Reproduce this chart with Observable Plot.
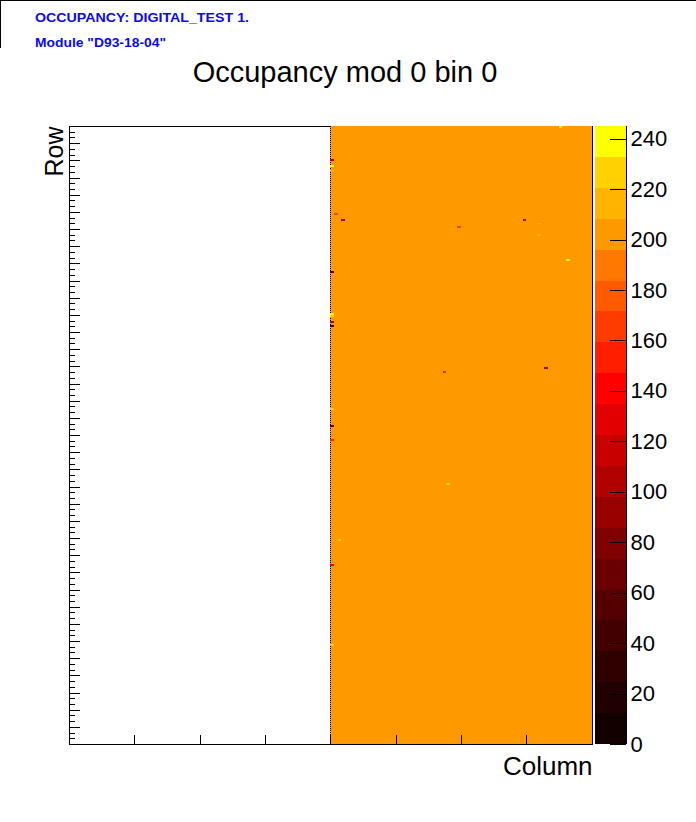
<!DOCTYPE html>
<html><head><meta charset="utf-8">
<script src="https://cdn.jsdelivr.net/npm/d3@7"></script>
<script src="https://cdn.jsdelivr.net/npm/@observablehq/plot@0.6"></script>
<style>
html,body{margin:0;padding:0;background:#fff;}
#wrap{position:relative;width:696px;height:822px;overflow:hidden;background:#fff;}
#wrap svg{position:absolute;top:0;}
#pave{position:absolute;left:0;top:0;width:696px;height:48px;border-top:1px solid #000;border-left:1px solid #000;box-sizing:border-box;}
</style></head><body><div id="wrap"><div id="pave"></div></div>
<script>
// ---- texts ----
const headerLines = ["OCCUPANCY: DIGITAL_TEST 1.", 'Module "D93-18-04"'];
const title = "Occupancy mod 0 bin 0";
const xLabel = "Column";
const yLabel = "Row";

// ---- grid ----
const nColumns = 144;
const nRows = 320;
const activeColStart = 72;   // first filled column
const activeColEnd = 144;
const baseOccupancy = 200;   // uniform value of the filled half

// ---- individual pixels that differ from 200 ----
const outCols   = [135, 72, 72, 72, 73, 75, 107, 125, 129, 129, 137, 72, 72, 72, 72, 72, 103, 131, 104, 72, 72, 74, 72, 72, 72];
const outRows   = [319, 302, 299, 296, 274, 271, 267, 271, 269, 263, 250, 244, 222, 221, 218, 216, 192, 194, 134, 164, 157, 105, 92, 51, 173];
const outValues = [242, 104, 238, 215, 165, 104, 160, 104, 214, 214, 238, 42, 238, 228, 104, 45, 153, 110, 232, 55, 150, 222, 130, 225, 225];

// ---- colour palette (20 contour bands, bottom to top) ----
const zMax = 245;
const paletteColors = ["#120000","#200000","#300000","#420000","#550000","#6a0000","#800000","#980000","#b00000","#c80000",
                       "#e20000","#ff0000","#ff1e00","#ff3c00","#ff5a00","#ff7800","#ff9900","#ffb400","#ffd200","#ffff00"];
const zTicks = [0, 20, 40, 60, 80, 100, 120, 140, 160, 180, 200, 220, 240];

// ---- axis ticks ----
const xTickCols = [18, 36, 54, 72, 90, 108, 126];
const yDivisions = 36;
const ySubdivisions = 3;

// ---- derived tables ----
const nBands = paletteColors.length;
const thresholds = d3.range(1, nBands).map(i => i * zMax / nBands);
const bands = paletteColors.map((c, i) => ({lo: i * zMax / nBands, hi: (i + 1) * zMax / nBands, color: c}));
const regions = [{x1: activeColStart, x2: activeColEnd, y1: 0, y2: nRows, value: baseOccupancy}];
const outliers = outCols.map((c, i) => ({col: c, row: outRows[i], value: outValues[i]}));
const yMajor = d3.range(0, yDivisions + 1).map(k => k * nRows / yDivisions);
const yMinor = d3.range(0, yDivisions * ySubdivisions + 1).filter(k => k % ySubdivisions).map(k => k * nRows / (yDivisions * ySubdivisions));

const W = 696, H = 822, mL = 69, mR = 104.5, mT = 126, mB = 78;
const frameW = W - mL - mR, frameH = H - mT - mB;
const font = '"Liberation Sans", Arial, Helvetica, sans-serif';
const style = {fontFamily: font, background: "none", overflow: "visible", color: "black"};

const main = Plot.plot({
  width: W, height: H, marginLeft: mL, marginRight: mR, marginTop: mT, marginBottom: mB,
  x: {domain: [0, nColumns], axis: null},
  y: {domain: [0, nRows], axis: null},
  color: {type: "threshold", domain: thresholds, range: paletteColors},
  style,
  marks: [
    Plot.frame({stroke: "black", shapeRendering: "crispEdges"}),
    Plot.rect(regions, {x1: "x1", x2: "x2", y1: "y1", y2: "y2", fill: "value", shapeRendering: "crispEdges"}),
    Plot.ruleX([activeColStart], {stroke: "black", strokeDasharray: "1,1", shapeRendering: "crispEdges"}),
    Plot.rect(outliers, {x1: "col", x2: d => d.col + 1, y1: "row", y2: d => d.row + 1, fill: "value", shapeRendering: "crispEdges"}),
    Plot.ruleX([0, nColumns], {stroke: "black", shapeRendering: "crispEdges"}),
    Plot.ruleY([0], {stroke: "black", shapeRendering: "crispEdges"}),
    Plot.tickY(yMajor, {y: d => d, insetRight: frameW - 11, stroke: "black", shapeRendering: "crispEdges"}),
    Plot.tickY(yMinor, {y: d => d, insetRight: frameW - 6, stroke: "black", shapeRendering: "crispEdges"}),
    Plot.tickX(xTickCols, {x: d => d, insetTop: frameH - 9, stroke: "black", shapeRendering: "crispEdges"}),
    Plot.text([title], {frameAnchor: "top-left", dx: 344.5 - mL, dy: 81 - mT, textAnchor: "middle", lineAnchor: "bottom", fontSize: 29, fill: "black"}),
    Plot.text([yLabel], {frameAnchor: "top-left", dx: -7, dy: 0, rotate: -90, textAnchor: "end", lineAnchor: "bottom", fontSize: 25, fill: "black"}),
    Plot.text([xLabel], {frameAnchor: "bottom-right", dx: 0.5, dy: 30, textAnchor: "end", lineAnchor: "bottom", fontSize: 26, fill: "black"}),
    Plot.text([headerLines[0]], {frameAnchor: "top-left", dx: 34.5 - mL, dy: 21.5 - mT, textAnchor: "start", lineAnchor: "bottom", fontSize: 12, fontWeight: "bold", fill: "#0a0aee", className: "hdr1"}),
    Plot.text([headerLines[1]], {frameAnchor: "top-left", dx: 34.5 - mL, dy: 46 - mT, textAnchor: "start", lineAnchor: "bottom", fontSize: 12, fontWeight: "bold", fill: "#0a0aee", className: "hdr2"})
  ]
});
main.style.left = "0px";
main.querySelectorAll(".hdr1 text").forEach(t => { t.setAttribute("textLength", 214); t.setAttribute("lengthAdjust", "spacingAndGlyphs"); });
main.querySelectorAll(".hdr2 text").forEach(t => { t.setAttribute("textLength", 131); t.setAttribute("lengthAdjust", "spacingAndGlyphs"); });

const cbar = Plot.plot({
  width: 111, height: H, marginLeft: 10, marginRight: 70, marginTop: mT, marginBottom: mB,
  x: {domain: [0, 1], axis: null},
  y: {domain: [0, zMax], axis: null},
  color: {type: "identity"},
  style,
  marks: [
    Plot.rect(bands, {x1: 0, x2: 1, y1: "lo", y2: "hi", fill: "color", shapeRendering: "crispEdges"}),
    Plot.tickY(zTicks, {y: d => d, insetLeft: 15, stroke: "black", shapeRendering: "crispEdges"}),
    Plot.ruleX([1], {stroke: "black", shapeRendering: "crispEdges"}),
    Plot.axisY(zTicks, {anchor: "right", tickSize: 0, tickPadding: 4, fontSize: 22, tickFormat: d => String(d), fill: "black"})
  ]
});
cbar.style.left = "585px";

const wrap = document.getElementById("wrap");
wrap.appendChild(main);
wrap.appendChild(cbar);
</script></body></html>
